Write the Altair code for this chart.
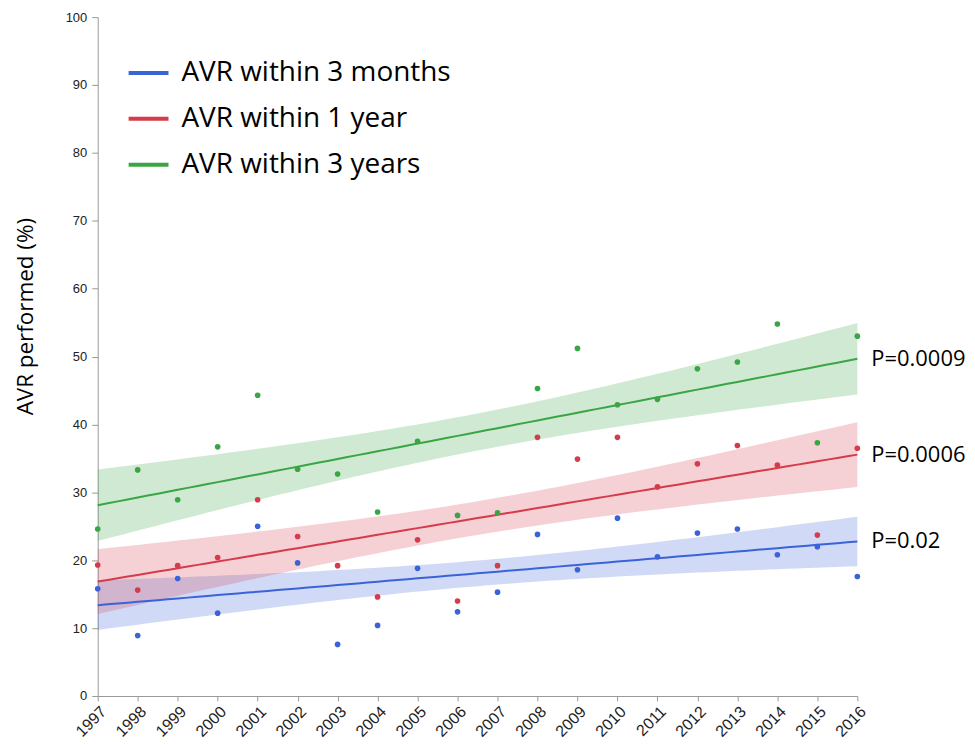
import altair as alt
import numpy as np
import pandas as pd

years = list(range(1997, 2017))
series_names = ["AVR within 3 months", "AVR within 1 year", "AVR within 3 years"]
colors = ["#3b63d8", "#d63b4b", "#3aa544"]
blue = [15.8, 8.9, 17.3, 12.2, 25.0, 19.6, 7.6, 10.4, 18.8, 12.4,
        15.3, 23.8, 18.6, 26.2, 20.5, 24.0, 24.6, 20.8, 22.0, 17.6]
red = [19.3, 15.6, 19.2, 20.4, 28.9, 23.5, 19.2, 14.6, 23.0, 14.0,
       19.2, 38.1, 34.9, 38.1, 30.8, 34.2, 36.9, 34.0, 23.7, 36.5]
green = [24.6, 33.3, 28.9, 36.7, 44.3, 33.4, 32.7, 27.1, 37.5, 26.6,
         27.0, 45.3, 51.2, 42.9, 43.7, 48.2, 49.2, 54.8, 37.3, 53.0]
p_labels = ["P=0.02", "P=0.0006", "P=0.0009"]

T_Q = 1.734  # t quantile for the band, df = 18

pts, fits, ends = [], [], []
for name, vals, p in zip(series_names, [blue, red, green], p_labels):
    x = np.array(years, dtype=float)
    y = np.array(vals, dtype=float)
    n = len(x)
    b, a = np.polyfit(x, y, 1)
    resid = y - (a + b * x)
    s = np.sqrt((resid ** 2).sum() / (n - 2))
    xm = x.mean()
    sxx = ((x - xm) ** 2).sum()
    grid = np.linspace(x.min(), x.max(), 77)
    yh = a + b * grid
    se = s * np.sqrt(1 / n + (grid - xm) ** 2 / sxx)
    for g, h, e in zip(grid, yh, se):
        fits.append({"series": name, "year": g, "fit": h,
                     "lo": h - T_Q * e, "hi": h + T_Q * e})
    for xx, yy in zip(years, vals):
        pts.append({"series": name, "year": xx, "value": yy})
    ends.append({"series": name, "year": x.max(), "fit": a + b * x.max(), "label": p})

pts = pd.DataFrame(pts)
fits = pd.DataFrame(fits)
ends = pd.DataFrame(ends)

xscale = alt.Scale(domain=[1997, 2016], nice=False, zero=False)
yscale = alt.Scale(domain=[0, 100], nice=False)
cscale = alt.Scale(domain=series_names, range=colors)

legend = alt.Legend(
    orient="none", legendX=29, legendY=34, title=None,
    symbolType="stroke", symbolSize=1600, symbolStrokeWidth=4, symbolOpacity=1,
    labelFontSize=28, labelFont="Open Sans", labelColor="black",
    labelOffset=11, rowPadding=10, padding=0, labelLimit=500,
)

xaxis = alt.Axis(
    values=[1997 + 0.5 * i for i in range(39)],
    labelExpr="datum.value % 1 == 0 ? format(datum.value, 'd') : ''",
    labelAngle=315, labelAlign="right", labelBaseline="top",
    labelFont="Liberation Sans", labelFontSize=16, labelColor="#222",
    labelOverlap=False, labelPadding=2,
    tickSize=5, tickColor="#999", domainColor="#999", grid=False, title=None,
)
yaxis = alt.Axis(
    values=[5 * i for i in range(21)],
    labelExpr="datum.value % 10 == 0 ? format(datum.value, 'd') : ''",
    labelFont="Liberation Sans", labelFontSize=13, labelColor="#222",
    labelOverlap=False, labelPadding=5,
    tickSize={"condition": {"test": "datum.value % 10 == 0", "value": 6}, "value": 3},
    tickColor="#999", domainColor="#999", grid=False,
    title="AVR performed (%)", titleFont="Open Sans", titleFontSize=22.5,
    titleFontWeight="normal", titleColor="black", titlePadding=28, titleY=300,
)

band = alt.Chart(fits).mark_area(opacity=0.24).encode(
    x=alt.X("year:Q", scale=xscale, axis=xaxis),
    y=alt.Y("lo:Q", scale=yscale, axis=yaxis),
    y2="hi:Q",
    color=alt.Color("series:N", scale=cscale, legend=legend),
)

line = alt.Chart(fits).mark_line(strokeWidth=2).encode(
    x=alt.X("year:Q", scale=xscale),
    y=alt.Y("fit:Q", scale=yscale),
    color=alt.Color("series:N", scale=cscale, legend=legend),
)

points = alt.Chart(pts).mark_circle(size=32, opacity=1).encode(
    x=alt.X("year:Q", scale=xscale),
    y=alt.Y("value:Q", scale=yscale),
    color=alt.Color("series:N", scale=cscale, legend=legend),
)

ptext = alt.Chart(ends).mark_text(
    align="left", baseline="middle", dx=14, fontSize=22, font="Open Sans", color="black"
).encode(
    x=alt.X("year:Q", scale=xscale),
    y=alt.Y("fit:Q", scale=yscale),
    text="label:N",
)

chart = alt.layer(band, line, points, ptext).properties(
    width=762, height=681,
    padding={"left": 90, "top": 8, "right": 110, "bottom": 46},
    autosize="none",
).configure_view(stroke=None)

chart.save("out.html", embed_options={"renderer": "svg", "actions": False})
